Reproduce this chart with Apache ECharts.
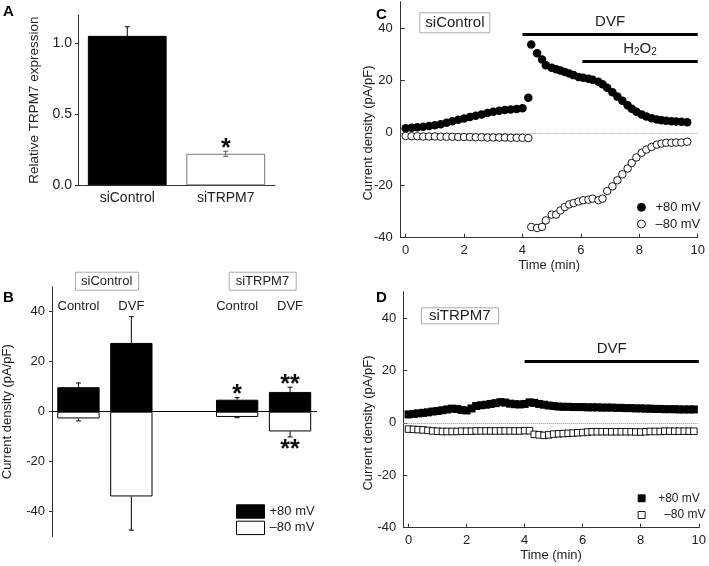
<!DOCTYPE html>
<html><head><meta charset="utf-8">
<script src="https://cdn.jsdelivr.net/npm/echarts@6/dist/echarts.min.js"></script>
<style>html,body{margin:0;padding:0;background:#fff}#c{width:709px;height:566px}</style>
</head><body><div id="c"></div>
<script>
// ---------- Panel A ----------
const catsA = ['siControl', 'siTRPM7'];
const valA = [1.053, 0.222];
const errA = [0.064, 0.018];
const sigA = ['', '*'];
const ticksA = [0, 0.5, 1.0];

// ---------- Panel B ----------
const catsB = ['Control', 'DVF', '', 'Control', 'DVF'];
const posB = [9.8, 27.5, null, 4.8, 7.9];
const posErrB = [1.7, 10.5, null, 0.8, 1.9];
const negB = [-2.7, -33.9, null, -2.1, -7.9];
const negErrB = [1.0, 13.5, null, 0.3, 2.2];
const sigPosB = ['', '', '', '*', '**'];
const sigNegB = ['', '', '', '', '**'];
const ticksB = [-40, -20, 0, 20, 40];

// ---------- Panel C ----------
const timePreC = [0,0.2,0.4,0.6,0.8,1.0,1.2,1.4,1.6,1.8,2.0,2.2,2.4,2.6,2.8,3.0,3.2,3.4,3.6,3.8,4.0,4.2];
const posPreC = [1.7,1.9,2.1,2.3,2.6,2.9,3.3,3.8,4.4,5.0,5.5,6.0,6.5,7.0,7.6,8.0,8.4,8.7,8.9,9.1,9.4,13.4];
const negPreC = [-1.2,-1.3,-1.3,-1.4,-1.4,-1.4,-1.5,-1.5,-1.5,-1.6,-1.6,-1.6,-1.7,-1.7,-1.8,-1.8,-1.8,-1.8,-1.9,-1.9,-1.9,-2.0];
const timePostC = [4.3,4.5,4.67,4.8,5.0,5.15,5.3,5.45,5.6,5.75,5.92,6.08,6.26,6.4,6.6,6.74,6.9,7.08,7.25,7.42,7.6,7.74,7.9,8.08,8.24,8.42,8.6,8.76,8.92,9.1,9.26,9.44,9.64];
const posPostC = [33.7,30.3,28.0,25.8,24.8,24.2,23.8,23.2,22.6,22.0,21.3,21.0,20.6,20.2,19.5,18.5,17.2,15.5,13.8,12.2,10.5,9.2,8.0,7.0,6.2,5.6,5.1,4.8,4.6,4.4,4.3,4.2,4.0];
const negPostC = [-35.9,-36.3,-35.9,-33.4,-31.2,-31.2,-29.6,-28.3,-27.3,-26.8,-26.2,-25.7,-25.5,-25.1,-25.7,-25.1,-22.2,-20.4,-18.1,-15.8,-13.6,-11.5,-9.4,-7.6,-6.4,-5.4,-4.5,-4.1,-3.8,-3.8,-3.7,-3.7,-3.4];
const dvfC = [4.0, 10, 37.7];      // start (min), end (min), bar level
const h2o2C = [6.05, 10, 27.1];
const ticksTime = [0, 2, 4, 6, 8, 10];
const ticksCD = [-40, -20, 0, 20, 40];

// ---------- Panel D ----------
const timeD = [0,0.17,0.33,0.5,0.67,0.83,1,1.17,1.33,1.5,1.67,1.83,2,2.17,2.33,2.5,2.67,2.83,3,3.17,3.33,3.5,3.67,3.83,4,4.17,4.33,4.5,4.67,4.83,5,5.17,5.33,5.5,5.67,5.83,6,6.17,6.33,6.5,6.67,6.83,7,7.17,7.33,7.5,7.67,7.83,8,8.17,8.33,8.5,8.67,8.83,9,9.17,9.33,9.5,9.67,9.83];
const posD = [3.2,3.4,3.6,3.8,4.0,4.3, 4.5,4.8,5.1,5.4,5.3,4.9, 4.7,5.5,6.4,6.7,6.9,7.2, 7.5,7.9,7.7,7.3,7.1,7.0, 7.2,7.8,7.6,7.2,6.9,6.6, 6.4,6.2,6.1,6.1,6.0,6.0, 6.0,5.9,5.9,5.9,5.8,5.8, 5.8,5.7,5.7,5.6,5.6,5.5, 5.5,5.4,5.4,5.3,5.3,5.2, 5.2,5.2,5.1,5.1,5.1,5.1];
const negD = [-2.4,-2.5,-2.6,-2.7,-2.9,-3.1, -3.2,-3.3,-3.3,-3.3,-3.3,-3.2, -3.2,-3.2,-3.1,-3.1,-3.1,-3.1, -3.1,-3.1,-3.1,-3.1,-3.1,-3.1, -3.0,-3.0,-4.4,-4.6,-4.8,-4.6, -4.3,-4.2,-4.1,-4.0,-3.9,-3.8, -3.7,-3.5,-3.4,-3.4,-3.4,-3.4, -3.4,-3.4,-3.4,-3.4,-3.4,-3.5, -3.5,-3.4,-3.3,-3.3,-3.3,-3.2, -3.2,-3.2,-3.2,-3.2,-3.2,-3.2];
const dvfD = [4.0, 10, 23.5];

// ---------- build ----------
const FONT = 'Liberation Sans, Arial, Helvetica, sans-serif';
const TXT = '#222';
const AX = '#333';
const zip = (xs, ys) => xs.map((x, i) => [x, ys[i]]);

function errRenderer(vals, errs, sig, dir, colors, sym) {
  return function (params, api) {
    const i = api.value(0);
    const v = vals[i], e = errs[i];
    const base = api.coord([i, sym ? v - e : v]);
    const tip = api.coord([i, v + dir * e]);
    const x = base[0];
    const cap = 2.5;
    const col = colors[i] || '#000';
    const kids = [
      {type: 'line', shape: {x1: x, y1: base[1], x2: x, y2: tip[1]}, style: {stroke: col, lineWidth: 1}},
      {type: 'line', shape: {x1: x - cap, y1: tip[1], x2: x + cap, y2: tip[1]}, style: {stroke: col, lineWidth: 1}}
    ];
    if (sym) kids.push({type: 'line', shape: {x1: x - cap, y1: base[1], x2: x + cap, y2: base[1]}, style: {stroke: col, lineWidth: 1}});
    const s = sig[i];
    if (s) kids.push({type: 'text', x: x, y: tip[1] - dir * 8 + 5.5,
      style: {text: s, fontSize: 25, fontWeight: 'bold', fontFamily: FONT, align: 'center', verticalAlign: 'middle', fill: '#111'}});
    return {type: 'group', children: kids};
  };
}
const idxData = (vals) => vals.map((v, i) => v == null ? null : [i, v]).filter(Boolean);

function hBar(def, label) {
  const ls = {color: '#000', width: 3, type: 'solid'};
  return [
    {coord: [def[0], def[2]], lineStyle: ls, label: label},
    {coord: [def[1], def[2]], lineStyle: ls, label: label}
  ];
}
const dvfLabel = {show: true, position: 'insideMiddleTop', distance: 5, formatter: 'DVF', fontSize: 15, color: TXT, fontFamily: FONT};
const h2o2Label = {show: true, position: 'insideMiddleTop', distance: 4, formatter: '{a|H}{b|2}{a|O}{b|2}', color: TXT,
  rich: {a: {fontSize: 15, lineHeight: 18, color: TXT, fontFamily: FONT}, b: {fontSize: 10, lineHeight: 8, verticalAlign: 'bottom', color: TXT, fontFamily: FONT}}};
const zeroLine = {yAxis: 0, lineStyle: {type: 'dotted', color: '#999', width: 1}, label: {show: false}};

const boxTitle = (text, left, top, size, pad) => ({text, left, top, padding: pad, borderColor: '#aaa', borderWidth: 1,
  textStyle: {fontSize: size, fontWeight: 'normal', color: TXT, fontFamily: FONT}});
const letter = (text, left, top) => ({text, left, top, padding: 0, textStyle: {fontSize: 15, fontWeight: 'bold', color: '#000', fontFamily: FONT}});

const option = {
  animation: false,
  textStyle: {fontFamily: FONT, color: TXT},
  title: [
    letter('A', 3, 4), letter('B', 3, 290), letter('C', 376, 7), letter('D', 376, 290),
    boxTitle('siControl', 75, 271.7, 13, [3, 6]),
    boxTitle('siTRPM7', 228.7, 271.7, 13, [3, 7]),
    boxTitle('siControl', 419.3, 12.3, 15, [3, 6]),
    boxTitle('siTRPM7', 421, 307.3, 15, [1, 8])
  ],
  grid: [
    {left: 78, top: 15, width: 197, height: 170.3},
    {left: 52, top: 286.7, width: 264.5, height: 250},
    {left: 400.7, top: 1.7, width: 297, height: 236},
    {left: 403.3, top: 291.7, width: 297, height: 236}
  ],
  xAxis: [
    {type: 'category', gridIndex: 0, data: catsA, axisLine: {lineStyle: {color: AX}}, axisTick: {show: false},
      axisLabel: {fontSize: 14, margin: 6, color: TXT}},
    {type: 'category', gridIndex: 1, data: catsB, axisLine: {onZero: true, lineStyle: {color: '#000'}}, axisTick: {show: false},
      axisLabel: {show: false}},
    {type: 'category', gridIndex: 1, data: catsB, position: 'top', axisLine: {show: false}, axisTick: {show: false},
      axisLabel: {interval: 0, fontSize: 13, margin: -20, verticalAlign: 'middle', color: TXT}},
    {type: 'value', gridIndex: 2, min: -0.17, max: 10, splitLine: {show: false},
      axisLine: {onZero: false, lineStyle: {color: AX}},
      axisTick: {inside: true, length: 4, customValues: ticksTime},
      axisLabel: {customValues: ticksTime, fontSize: 13, margin: 6, color: TXT},
      name: 'Time (min)', nameLocation: 'middle', nameGap: 21, nameTextStyle: {fontSize: 13, color: TXT}},
    {type: 'value', gridIndex: 3, min: -0.18, max: 10, splitLine: {show: false},
      axisLine: {onZero: false, lineStyle: {color: AX}},
      axisTick: {inside: true, length: 4, customValues: ticksTime},
      axisLabel: {customValues: ticksTime, fontSize: 13, margin: 6, color: TXT},
      name: 'Time (min)', nameLocation: 'middle', nameGap: 21, nameTextStyle: {fontSize: 13, color: TXT}}
  ],
  yAxis: [
    {type: 'value', gridIndex: 0, min: 0, max: 1.2, splitLine: {show: false},
      axisLine: {show: true, lineStyle: {color: AX}},
      axisTick: {show: true, length: 3, customValues: ticksA},
      axisLabel: {customValues: ticksA, formatter: v => v.toFixed(1), fontSize: 14, margin: 6, color: TXT},
      name: 'Relative TRPM7 expression', nameLocation: 'middle', nameGap: 37, nameTextStyle: {fontSize: 13.5, color: TXT}},
    {type: 'value', gridIndex: 1, min: -50, max: 50, splitLine: {show: false},
      axisLine: {show: true, onZero: false, lineStyle: {color: AX}},
      axisTick: {show: true, length: 3, customValues: ticksB},
      axisLabel: {customValues: ticksB, fontSize: 13, margin: 7, color: TXT},
      name: 'Current density (pA/pF)', nameLocation: 'middle', nameGap: 38, nameTextStyle: {fontSize: 13, color: TXT}},
    {type: 'value', gridIndex: 2, min: -40, max: 50, splitLine: {show: false},
      axisLine: {show: true, onZero: false, lineStyle: {color: AX}},
      axisTick: {show: true, inside: true, length: 4, customValues: ticksCD},
      axisLabel: {customValues: ticksCD, fontSize: 13, margin: 8, color: TXT}},
    {type: 'value', gridIndex: 3, min: -40, max: 50, splitLine: {show: false},
      axisLine: {show: true, onZero: false, lineStyle: {color: AX}},
      axisTick: {show: true, inside: true, length: 4, customValues: ticksCD},
      axisLabel: {customValues: ticksCD, fontSize: 13, margin: 7, color: TXT}}
  ],
  legend: [
    {left: 231, top: 499.3, orient: 'vertical', itemWidth: 28, itemHeight: 13.4, itemGap: 2, icon: 'rect',
      itemStyle: {borderWidth: 1},
      selectedMode: false, data: ['+80 mV', '–80 mV'], textStyle: {fontSize: 13, lineHeight: 14, color: TXT}},
    {left: 632, top: 195.3, orient: 'vertical', itemWidth: 8, itemHeight: 8, itemGap: 2.7, icon: 'circle',
      itemStyle: {borderWidth: 0.9},
      selectedMode: false, data: ['+80 mV', '–80 mV'], textStyle: {fontSize: 13, lineHeight: 14, color: TXT, padding: [0, 0, 0, 5]}},
    {left: 632.7, top: 486.3, orient: 'vertical', itemWidth: 7, itemHeight: 7, itemGap: 2.7, icon: 'rect',
      itemStyle: {borderWidth: 0.9},
      selectedMode: false, data: ['+80 mV', {name: '–80 mV', textStyle: {padding: [0, 0, 0, 14]}}],
      textStyle: {fontSize: 12, lineHeight: 14, color: TXT, padding: [0, 0, 0, 8]}}
  ],
  graphic: [
    {type: 'text', x: 368, y: 133, rotation: Math.PI / 2,
      style: {text: 'Current density (pA/pF)', fontSize: 13, fontFamily: FONT, fill: TXT, align: 'center', verticalAlign: 'middle'}},
    {type: 'text', x: 368, y: 423, rotation: Math.PI / 2,
      style: {text: 'Current density (pA/pF)', fontSize: 13, fontFamily: FONT, fill: TXT, align: 'center', verticalAlign: 'middle'}}
  ],
  series: [
    // B bars (first so legends take their styles)
    {type: 'bar', name: '+80 mV', xAxisIndex: 1, yAxisIndex: 1, data: posB, barWidth: '80%', barGap: '-100%',
      itemStyle: {color: '#000', borderColor: '#000', borderWidth: 1}},
    {type: 'bar', name: '–80 mV', xAxisIndex: 1, yAxisIndex: 1, data: negB, barWidth: '80%', barGap: '-100%',
      itemStyle: {color: '#fff', borderColor: '#000', borderWidth: 1}},
    {type: 'custom', xAxisIndex: 1, yAxisIndex: 1, z: 3, data: idxData(posB),
      renderItem: errRenderer(posB, posErrB, sigPosB, 1, [], false)},
    {type: 'custom', xAxisIndex: 1, yAxisIndex: 1, z: 3, data: idxData(negB),
      renderItem: errRenderer(negB, negErrB, sigNegB, -1, [], false)},
    // A
    {type: 'bar', xAxisIndex: 0, yAxisIndex: 0, barWidth: '80%',
      data: [
        {value: valA[0], itemStyle: {color: '#000', borderColor: '#000', borderWidth: 1}},
        {value: valA[1], itemStyle: {color: '#fff', borderColor: '#777', borderWidth: 1}}
      ]},
    {type: 'custom', xAxisIndex: 0, yAxisIndex: 0, z: 3, data: idxData(valA),
      renderItem: errRenderer(valA, errA, sigA, 1, ['#000', '#555'], true)},
    // C
    {type: 'scatter', name: '+80 mV', xAxisIndex: 3, yAxisIndex: 2, symbol: 'circle', symbolSize: 8.5, z: 2,
      itemStyle: {color: '#000', opacity: 1},
      data: zip(timePreC, posPreC).concat(zip(timePostC, posPostC)),
      markLine: {silent: true, symbol: 'none', z: 1, data: [zeroLine, hBar(dvfC, dvfLabel), hBar(h2o2C, h2o2Label)]}},
    {type: 'scatter', name: '–80 mV', xAxisIndex: 3, yAxisIndex: 2, symbol: 'circle', symbolSize: 7.5, z: 3,
      itemStyle: {color: '#fff', borderColor: '#000', borderWidth: 0.9, opacity: 1},
      data: zip(timePreC, negPreC).concat(zip(timePostC, negPostC))},
    // D
    {type: 'scatter', name: '+80 mV', xAxisIndex: 4, yAxisIndex: 3, symbol: 'rect', symbolSize: 8, z: 2,
      itemStyle: {color: '#000', opacity: 1},
      data: zip(timeD, posD),
      markLine: {silent: true, symbol: 'none', z: 1, data: [zeroLine, hBar(dvfD, dvfLabel)]}},
    {type: 'scatter', name: '–80 mV', xAxisIndex: 4, yAxisIndex: 3, symbol: 'rect', symbolSize: 6.5, z: 3,
      itemStyle: {color: '#fff', borderColor: '#000', borderWidth: 0.9, opacity: 1},
      data: zip(timeD, negD)}
  ]
};
const chart = echarts.init(document.getElementById('c'), null, {renderer: 'canvas'});
chart.setOption(option);
</script>
</body></html>
